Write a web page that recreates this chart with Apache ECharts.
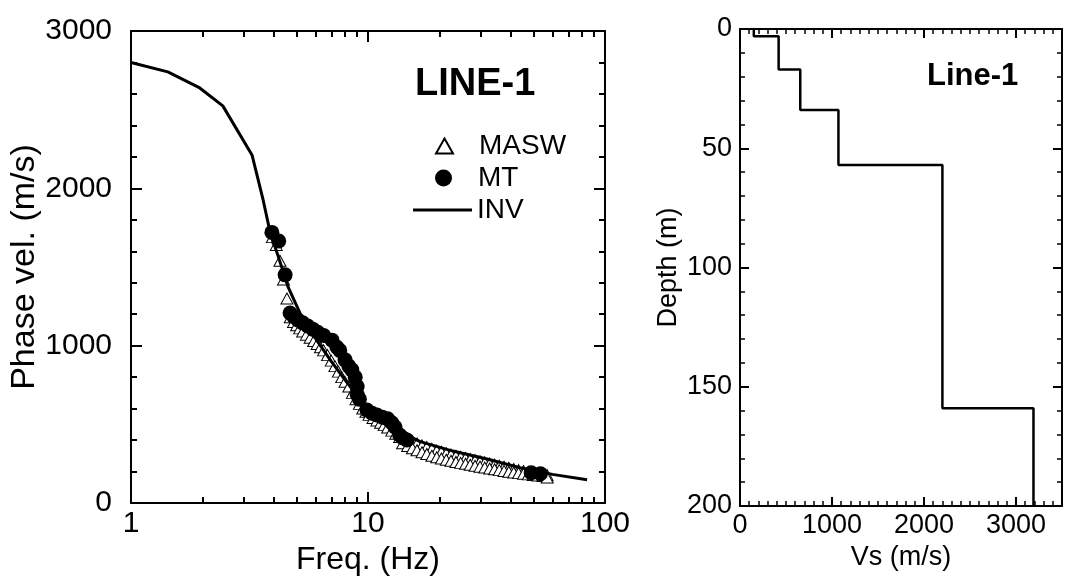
<!DOCTYPE html>
<html><head><meta charset="utf-8">
<script src="https://cdn.jsdelivr.net/npm/echarts@6/dist/echarts.min.js"></script>
<style>html,body{margin:0;padding:0;background:#fff}#c{width:1065px;height:576px}</style>
</head><body><div id="c"></div>
<script>
// ---- data ----
const invFreq = [1, 1.43, 1.95, 2.44, 3.24, 3.61, 3.86, 4.2, 4.6, 5.16, 6.1, 7.0, 8.2, 9.5, 11, 13.2, 16.6, 22.8, 31.8, 43.8, 60, 84];
const invVel  = [2800, 2740, 2638, 2524, 2212, 1926, 1723, 1558, 1373, 1208, 1030, 900, 760, 640, 545, 465, 390, 330, 280, 225, 182, 148];

const mtFreq = [3.93, 4.2, 4.47, 4.69, 4.85, 5.06, 5.3, 5.57, 5.85, 6.14, 6.5, 7.05, 7.4, 7.6, 8.0, 8.3, 8.55, 8.83, 9.0, 9.0, 9.2, 9.9, 10.4, 10.9, 11.5, 12.1, 12.6, 13.0, 13.6, 14.0, 14.6, 48.8, 53.4];
const mtVel  = [1720, 1665, 1450, 1208, 1185, 1163, 1145, 1125, 1105, 1085, 1065, 1035, 990, 970, 910, 870, 846, 800, 740, 690, 660, 591, 570, 559, 545, 535, 510, 483, 432, 415, 400, 192, 186];

const maswFreq = [
  3.95, 4.1, 4.25, 4.4, 4.55, 4.7, 4.85, 5.0, 5.15, 5.3, 5.5, 5.7, 5.9, 6.1, 6.3, 6.5, 6.75, 7.0, 7.25, 7.5, 7.75, 8.0, 8.3, 8.6, 8.9, 9.2, 9.5, 9.8, 10.1, 10.5, 10.9, 11.3, 11.7, 12.1, 12.6, 13.1, 13.6,
  14, 14.7, 15.4, 16.1, 16.9, 17.7, 18.6, 19.5, 20.4, 21.4, 22.4, 23.5, 24.6, 25.8, 27, 28.3, 29.7, 31.1, 32.6, 34.2, 35.8, 37.5, 39.3, 41.2, 43.2, 45.3, 47.5, 49.8, 52.2, 54.7, 57,
  14, 14.7, 15.4, 16.1, 16.9, 17.7, 18.6, 19.5, 20.4, 21.4, 22.4, 23.5, 24.6, 25.8, 27, 28.3, 29.7, 31.1, 32.6, 34.2, 35.8, 37.5, 39.3, 41.2, 43.2, 45.3, 47.5, 49.8, 52.2, 54.7, 57
];
const maswVel = [
  1690, 1640, 1540, 1420, 1300, 1180, 1150, 1130, 1110, 1090, 1070, 1050, 1030, 1010, 990, 970, 940, 905, 870, 835, 800, 770, 740, 700, 660, 630, 600, 580, 560, 540, 525, 510, 495, 480, 460, 440, 420,
  420, 405, 392, 378, 366, 355, 344, 334, 325, 316, 308, 300, 293, 286, 279, 272, 265, 258, 251, 244, 237, 230, 223, 216, 209, 203, 197, 191, 186, 181, 177,
  380, 362, 348, 335, 322, 311, 300, 291, 283, 275, 268, 261, 255, 249, 243, 237, 231, 225, 219, 214, 209, 204, 199, 194, 190, 186, 182, 178, 175, 172, 162
];

const vsLayers   = [150, 420, 655, 1070, 2200, 3190];
const layerTops  = [0, 3, 17, 34, 57, 159];
const maxDepth   = 200;

const freqMinorTicks = [2, 3, 4, 5, 6, 7, 8, 9, 20, 30, 40, 50, 60, 70, 80, 90];

// ---- build ----
const FONT = 'Liberation Sans, Arial, sans-serif';
const zip = (a, b) => a.map((v, i) => [v, b[i]]);
const profile = [];
vsLayers.forEach((vs, i) => {
  const top = layerTops[i];
  const bot = i + 1 < layerTops.length ? layerTops[i + 1] : maxDepth;
  profile.push([vs, top], [vs, bot]);
});

const G0 = {left: 131, top: 31, width: 474, height: 472};
const G1 = {left: 740, top: 29, width: 322, height: 477};

const lineStyleAx = {color: '#000', width: 2};
function logAxis(pos, minor, labels) {
  return {
    type: 'log', logBase: 10, gridIndex: 0, position: pos, min: 1, max: 100,
    axisLine: {show: !minor, lineStyle: lineStyleAx, onZero: false},
    axisTick: minor ? {show: true, inside: true, length: 6, lineStyle: {width: 2, color: '#000'}, customValues: freqMinorTicks}
                    : {show: true, inside: true, length: 11, lineStyle: {width: 2, color: '#000'}},
    axisLabel: {show: labels, fontSize: 30, color: '#000', fontFamily: FONT, margin: 6},
    splitLine: {show: false}, minorTick: {show: false},
    name: labels ? 'Freq. (Hz)' : '', nameLocation: 'middle', nameGap: 26,
    nameTextStyle: {fontSize: 32, color: '#000', fontFamily: FONT}
  };
}
function velAxis(pos, labels) {
  return {
    type: 'value', gridIndex: 0, position: pos, min: 0, max: 3000, interval: 1000,
    axisLine: {show: true, lineStyle: lineStyleAx, onZero: false},
    axisTick: {show: true, inside: true, length: 11, lineStyle: {width: 2, color: '#000'}},
    minorTick: {show: true, splitNumber: 5, length: 6, lineStyle: {width: 2, color: '#000'}},
    axisLabel: {show: labels, fontSize: 30, color: '#000', fontFamily: FONT, margin: 19,
      formatter: v => String(v)},
    splitLine: {show: false}, minorSplitLine: {show: false},
    name: labels ? 'Phase vel. (m/s)' : '', nameLocation: 'middle', nameGap: 69,
    nameTextStyle: {fontSize: 34, color: '#000', fontFamily: FONT}
  };
}
function vsAxis(pos, labels) {
  return {
    type: 'value', gridIndex: 1, position: pos, min: 0, max: 3500, interval: 1000,
    axisLine: {show: true, lineStyle: lineStyleAx, onZero: false},
    axisTick: {show: true, inside: true, length: 9, lineStyle: {width: 2, color: '#000'}},
    minorTick: {show: true, splitNumber: 10, length: 5, lineStyle: {width: 1.5, color: '#000'}},
    axisLabel: {show: labels, fontSize: 27, color: '#000', fontFamily: FONT, margin: 6,
      formatter: v => (v % 1000 === 0 ? String(v) : '')},
    splitLine: {show: false}, minorSplitLine: {show: false},
    name: labels ? 'Vs (m/s)' : '', nameLocation: 'middle', nameGap: 33,
    nameTextStyle: {fontSize: 27, color: '#000', fontFamily: FONT}
  };
}
function depthAxis(pos, labels) {
  return {
    type: 'value', gridIndex: 1, position: pos, min: 0, max: 200, interval: 50, inverse: true,
    axisLine: {show: true, lineStyle: lineStyleAx, onZero: false},
    axisTick: {show: true, inside: true, length: 9, lineStyle: {width: 2, color: '#000'}},
    minorTick: {show: true, splitNumber: 5, length: 5, lineStyle: {width: 1.5, color: '#000'}},
    axisLabel: {show: labels, fontSize: 27, color: '#000', fontFamily: FONT, margin: 8},
    splitLine: {show: false}, minorSplitLine: {show: false},
    name: labels ? 'Depth (m)' : '', nameLocation: 'middle', nameGap: 58,
    nameTextStyle: {fontSize: 27, color: '#000', fontFamily: FONT}
  };
}

const chart = echarts.init(document.getElementById('c'), null, {renderer: 'canvas'});
chart.setOption({
  backgroundColor: '#fff',
  animation: false,
  textStyle: {fontFamily: FONT},
  title: [
    {text: 'LINE-1', left: 415, top: 66, padding: 0, textStyle: {fontSize: 38, fontWeight: 'bold', color: '#000', fontFamily: FONT}},
    {text: 'Line-1', left: 927, top: 61, padding: 0, textStyle: {fontSize: 31, fontWeight: 'bold', color: '#000', fontFamily: FONT}}
  ],
  legend: [
    {data: ['MASW'], left: 435, top: 132, padding: 0, itemWidth: 17, itemHeight: 15, selectedMode: false,
     textStyle: {fontSize: 28, color: '#000', fontFamily: FONT, padding: [0, 0, 0, 21]}},
    {data: ['MT'], left: 435, top: 164, padding: 0, itemWidth: 17, itemHeight: 17, selectedMode: false,
     textStyle: {fontSize: 28, color: '#000', fontFamily: FONT, padding: [0, 0, 0, 21]}},
    {data: [{name: 'INV', icon: 'rect'}], left: 413, top: 196, padding: 0, itemWidth: 59, itemHeight: 3, selectedMode: false,
     textStyle: {fontSize: 28, color: '#000', fontFamily: FONT}}
  ],
  grid: [
    Object.assign({containLabel: false, outerBoundsMode: 'none'}, G0),
    Object.assign({containLabel: false, outerBoundsMode: 'none'}, G1)
  ],
  xAxis: [
    logAxis('bottom', false, true),
    logAxis('bottom', true, false),
    logAxis('top', false, false),
    logAxis('top', true, false),
    vsAxis('bottom', true),
    vsAxis('top', false)
  ],
  yAxis: [
    velAxis('left', true),
    velAxis('right', false),
    depthAxis('left', true),
    depthAxis('right', false)
  ],
  series: [
    {name: 'MASW', type: 'scatter', xAxisIndex: 0, yAxisIndex: 0, symbol: 'triangle', symbolSize: [12, 11],
     itemStyle: {color: '#fff', borderColor: '#000', borderWidth: 1, opacity: 1},
     data: zip(maswFreq, maswVel), z: 2},
    {name: 'MT', type: 'scatter', xAxisIndex: 0, yAxisIndex: 0, symbol: 'circle', symbolSize: 15,
     itemStyle: {color: '#000', borderWidth: 0, opacity: 1}, data: zip(mtFreq, mtVel), z: 3},
    {name: 'INV', type: 'line', xAxisIndex: 0, yAxisIndex: 0, symbol: 'none', showSymbol: false,
     lineStyle: {color: '#000', width: 3}, itemStyle: {color: '#000'}, data: zip(invFreq, invVel), z: 4},
    {name: 'Vs profile', type: 'line', xAxisIndex: 4, yAxisIndex: 2, symbol: 'none', showSymbol: false,
     lineStyle: {color: '#000', width: 2.5}, data: profile, z: 4}
  ]
});
</script>
</body></html>
